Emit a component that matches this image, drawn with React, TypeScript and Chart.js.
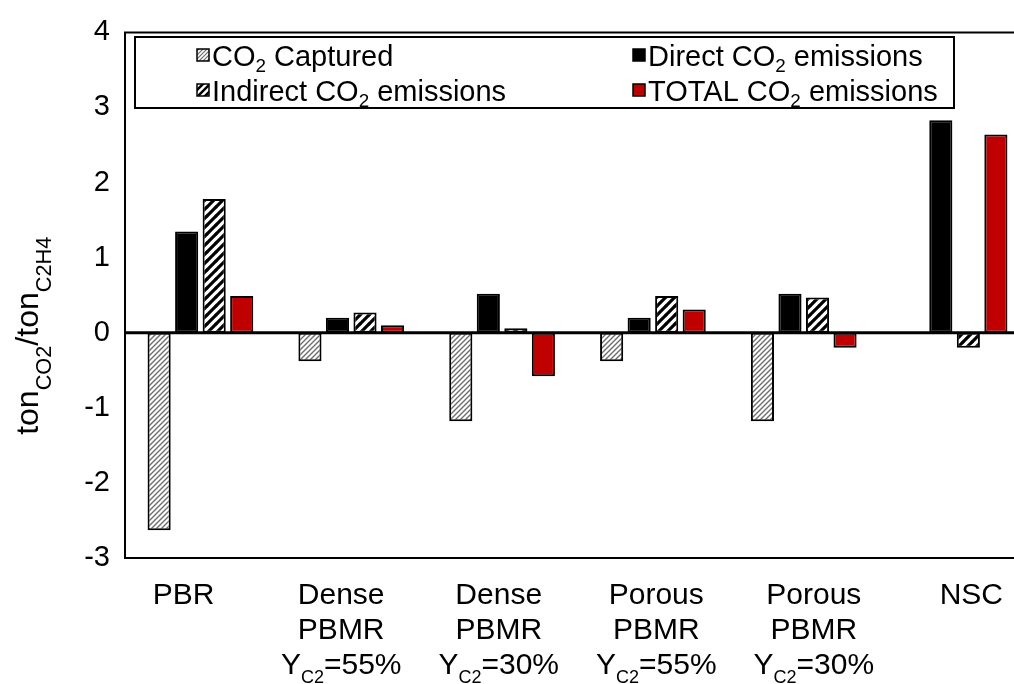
import React, { useEffect, useRef } from "react";
import { Chart, registerables } from "chart.js";
Chart.register(...registerables);

const categories = [
  "PBR",
  "Dense\nPBMR\nY_{C2}=55%",
  "Dense\nPBMR\nY_{C2}=30%",
  "Porous\nPBMR\nY_{C2}=55%",
  "Porous\nPBMR\nY_{C2}=30%",
  "NSC",
];
const capturedValues = [-2.63, -0.38, -1.18, -0.38, -1.18, null];
const directValues = [1.35, 0.2, 0.52, 0.2, 0.52, 2.83];
const indirectValues = [1.78, 0.27, 0.06, 0.49, 0.47, -0.2];
const totalValues = [0.49, 0.1, -0.58, 0.31, -0.2, 2.64];
const seriesNames = [
  "CO_{2} Captured",
  "Direct CO_{2} emissions",
  "Indirect CO_{2} emissions",
  "TOTAL CO_{2} emissions",
];
const yTitle = "ton_{CO2}/ton_{C2H4}";
const yMin = -3;
const yMax = 4;

const FONT = '"Liberation Sans", Arial, sans-serif';

function makeStripe(size: number, lw: number, color: string): CanvasPattern {
  const c = document.createElement("canvas");
  c.width = size;
  c.height = size;
  const g = c.getContext("2d")!;
  g.fillStyle = "#ffffff";
  g.fillRect(0, 0, size, size);
  g.strokeStyle = color;
  g.lineWidth = lw;
  g.beginPath();
  g.moveTo(-1, 1);
  g.lineTo(1, -1);
  g.moveTo(0, size);
  g.lineTo(size, 0);
  g.moveTo(size - 1, size + 1);
  g.lineTo(size + 1, size - 1);
  g.stroke();
  return g.createPattern(c, "repeat")!;
}

function parseRich(s: string) {
  const segs: { t: string; sub: boolean }[] = [];
  const re = /_\{([^}]*)\}/g;
  let last = 0;
  let m: RegExpExecArray | null;
  while ((m = re.exec(s))) {
    if (m.index > last) segs.push({ t: s.slice(last, m.index), sub: false });
    segs.push({ t: m[1], sub: true });
    last = re.lastIndex;
  }
  if (last < s.length) segs.push({ t: s.slice(last), sub: false });
  return segs;
}

function drawRich(
  ctx: CanvasRenderingContext2D,
  s: string,
  x: number,
  y: number,
  size: number,
  align: "left" | "center",
  subScale = 0.65,
  subDrop = 0.28
) {
  const segs = parseRich(s);
  const subSize = size * subScale;
  let w = 0;
  for (const sg of segs) {
    ctx.font = `${sg.sub ? subSize : size}px ${FONT}`;
    w += ctx.measureText(sg.t).width;
  }
  let cx = align === "center" ? x - w / 2 : x;
  ctx.textAlign = "left";
  ctx.textBaseline = "alphabetic";
  for (const sg of segs) {
    ctx.font = `${sg.sub ? subSize : size}px ${FONT}`;
    ctx.fillText(sg.t, cx, sg.sub ? y + size * subDrop : y);
    cx += ctx.measureText(sg.t).width;
  }
}

export default function App() {
  const ref = useRef<HTMLCanvasElement | null>(null);
  useEffect(() => {
    if (!ref.current) return;
    const fineHatch = makeStripe(5, 1.4, "#6e6e6e");
    const wideHatch = makeStripe(9, 3.2, "#000000");
    const iconFine = makeStripe(4, 1.2, "#6e6e6e");
    const iconWide = makeStripe(7, 2.5, "#000000");
    const fills = [fineHatch, "#000000", wideHatch, "#C00000"];
    const iconFills = [iconFine, "#000000", iconWide, "#C00000"];

    const decor = {
      id: "decor",
      afterDatasetsDraw(chart: any) {
        const { ctx, chartArea } = chart;
        const y0 = chart.scales.y.getPixelForValue(0);
        ctx.save();
        ctx.strokeStyle = "#000";
        ctx.lineWidth = 3;
        ctx.beginPath();
        ctx.moveTo(chartArea.left, y0);
        ctx.lineTo(chartArea.right, y0);
        ctx.stroke();
        ctx.restore();
      },
      afterDraw(chart: any) {
        const { ctx, chartArea } = chart;
        ctx.save();
        ctx.strokeStyle = "#000";
        ctx.lineWidth = 2;
        ctx.beginPath();
        ctx.moveTo(chartArea.right + 5, chartArea.top);
        ctx.lineTo(chartArea.left, chartArea.top);
        ctx.lineTo(chartArea.left, chartArea.bottom);
        ctx.lineTo(chartArea.right + 5, chartArea.bottom);
        ctx.stroke();

        // x labels
        ctx.fillStyle = "#000";
        const xs = chart.scales.x;
        const n = categories.length;
        categories.forEach((c, i) => {
          const px = xs.getPixelForValue(i) + (i - (n - 1) / 2) * 6.7;
          c.split("\n").forEach((ln, j) => {
            drawRich(ctx, ln, px, chartArea.bottom + 46 + j * 35, 30, "center", 0.6, 0.3);
          });
        });

        // y title
        ctx.save();
        ctx.translate(38, chart.scales.y.getPixelForValue(0) + 3);
        ctx.rotate(-Math.PI / 2);
        drawRich(ctx, yTitle, 0, 0, 32, "center", 0.68, 0.42);
        ctx.restore();

        // legend
        const lx = 135, ly = 37, lw = 819, lh = 71;
        ctx.fillStyle = "#fff";
        ctx.fillRect(lx, ly, lw, lh);
        ctx.lineWidth = 2;
        ctx.strokeStyle = "#000";
        ctx.strokeRect(lx, ly, lw, lh);
        const pos = [
          [197, 66],
          [633, 66],
          [197, 101],
          [633, 101],
        ];
        seriesNames.forEach((nm, i) => {
          const [ix, iy] = pos[i];
          ctx.fillStyle = iconFills[i] as any;
          ctx.fillRect(ix, iy - 17, 12, 12);
          ctx.lineWidth = 1.5;
          ctx.strokeStyle = "#000";
          ctx.strokeRect(ix, iy - 17, 12, 12);
          ctx.fillStyle = "#000";
          drawRich(ctx, nm, ix + 15, iy, 29, "left", 0.65, 0.22);
        });
        ctx.restore();
      },
    };

    const chart = new Chart(ref.current, {
      type: "bar",
      data: {
        labels: categories,
        datasets: [capturedValues, directValues, indirectValues, totalValues].map((d, i) => ({
          label: seriesNames[i],
          data: d as any,
          backgroundColor: fills[i] as any,
          borderColor: "#000",
          borderWidth: 2,
          borderSkipped: false,
          categoryPercentage: 0.73,
          barPercentage: 0.84,
        })),
      },
      options: {
        responsive: false,
        animation: false,
        devicePixelRatio: 1,
        layout: { padding: { top: 30, left: 0, right: 0, bottom: 0 } },
        plugins: { legend: { display: false }, tooltip: { enabled: false } },
        scales: {
          x: {
            grid: { display: false },
            border: { display: false },
            ticks: { display: false },
            afterFit: (s: any) => {
              s.height = 126;
            },
          },
          y: {
            min: yMin,
            max: yMax,
            grid: { display: false, drawTicks: false },
            border: { display: false },
            ticks: {
              stepSize: 1,
              color: "#000",
              padding: 15,
              font: { family: FONT, size: 29 },
            },
            afterFit: (s: any) => {
              s.width = 125;
            },
          },
        },
      },
      plugins: [decor],
    });
    return () => chart.destroy();
  }, []);
  return (
    <div
      style={{
        position: "absolute",
        left: 0,
        top: 0,
        width: 1014,
        height: 684,
        overflow: "hidden",
        background: "#fff",
      }}
    >
      <canvas ref={ref} width={1030} height={684} style={{ display: "block", width: 1030, height: 684 }} />
    </div>
  );
}
